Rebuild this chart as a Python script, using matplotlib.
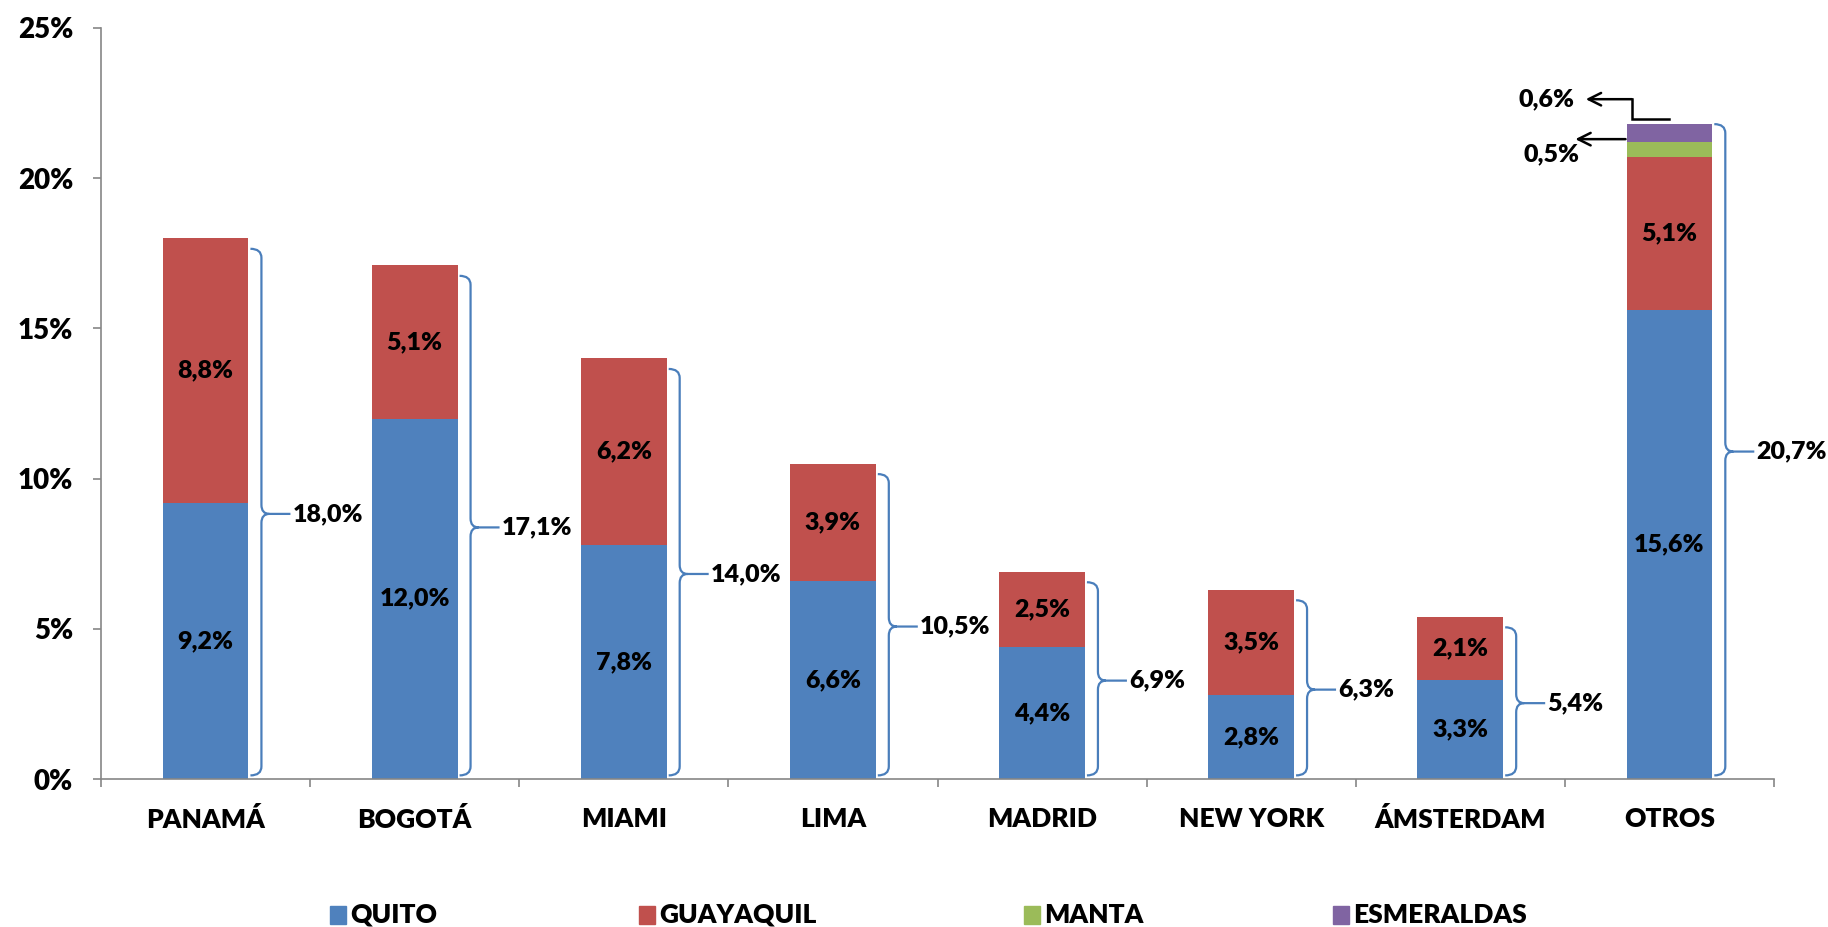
import matplotlib
matplotlib.use('Agg')
import matplotlib.pyplot as plt
from matplotlib.path import Path
from matplotlib.patches import PathPatch, Rectangle
import numpy as np

categories = ['PANAMÁ', 'BOGOTÁ', 'MIAMI', 'LIMA', 'MADRID', 'NEW YORK', 'ÁMSTERDAM', 'OTROS']
quito = [9.2, 12.0, 7.8, 6.6, 4.4, 2.8, 3.3, 15.6]
guayaquil = [8.8, 5.1, 6.2, 3.9, 2.5, 3.5, 2.1, 5.1]
manta = [0, 0, 0, 0, 0, 0, 0, 0.5]
esmeraldas = [0, 0, 0, 0, 0, 0, 0, 0.6]
series_names = ['QUITO', 'GUAYAQUIL', 'MANTA', 'ESMERALDAS']
colors = ['#4F81BD', '#C0504D', '#9BBB59', '#8064A2']
yticks = [0, 5, 10, 15, 20, 25]

FONT = ['Lato', 'DejaVu Sans']
LEGFONT = ['Liberation Sans Narrow', 'Lato', 'DejaVu Sans']
WEIGHT = 'heavy'
GRAY = '#868686'
BRACE = '#4A7EBB'

def fmt(v):
    return f"{v:.1f}".replace('.', ',') + '%'

W, H = 1828, 927
fig = plt.figure(figsize=(W / 100, H / 100), dpi=100)
ax = fig.add_axes([101 / W, 148 / H, 1673 / W, 751 / H])
x = np.arange(len(categories))
bw = 0.41
series = [quito, guayaquil, manta, esmeraldas]
bottom = np.zeros(len(x))
for vals, c in zip(series, colors):
    ax.bar(x, vals, bw, bottom=bottom, color=c, edgecolor='none', zorder=2)
    bottom += np.array(vals)
stack_top = bottom.copy()

ax.set_xlim(-0.5, len(categories) - 0.5)
ax.set_ylim(0, 25)

# inner labels
for i in range(len(x)):
    ax.text(x[i], quito[i] / 2, fmt(quito[i]), ha='center', va='center',
            fontsize=18, fontweight=WEIGHT, family=FONT, zorder=3)
    ax.text(x[i], quito[i] + guayaquil[i] / 2, fmt(guayaquil[i]), ha='center', va='center',
            fontsize=18, fontweight=WEIGHT, family=FONT, zorder=3)

# braces
pxx = 8 / 1673.0
pxy = 25 / 751.0
totals = [q + g for q, g in zip(quito, guayaquil)]
for i in range(len(x)):
    top = stack_top[i] - (0.0 if i == len(x) - 1 else 0.35)
    bot = 0.12
    mid = top / 2
    xb = x[i] + bw / 2 + 2 * pxx
    xv = xb + 11 * pxx
    xp = xv + 8 * pxx
    xt = xb + 40 * pxx
    r = 9 * pxy
    verts = [(xb, top), (xv, top), (xv, top - r),
             (xv, mid + r), (xv, mid), (xp, mid),
             (xt, mid),
             (xp, mid), (xv, mid), (xv, mid - r),
             (xv, bot + r), (xv, bot), (xb, bot)]
    codes = [Path.MOVETO, Path.CURVE3, Path.CURVE3,
             Path.LINETO, Path.CURVE3, Path.CURVE3,
             Path.LINETO,
             Path.MOVETO, Path.CURVE3, Path.CURVE3,
             Path.LINETO, Path.CURVE3, Path.CURVE3]
    ax.add_patch(PathPatch(Path(verts, codes), fill=False, edgecolor=BRACE, lw=1.6,
                           zorder=3, clip_on=False))
    ax.text(xt + 2 * pxx, mid, fmt(totals[i]), ha='left', va='center',
            fontsize=18, fontweight=WEIGHT, family=FONT, zorder=3)

# OTROS small-segment annotations
i = len(x) - 1
ax.plot([i + 0.0, i - 0.18, i - 0.18], [21.97, 21.97, 22.63], color='black', lw=1.8,
        solid_joinstyle='miter', zorder=3, clip_on=False)
ax.annotate('', xy=(i - 0.40, 22.63), xytext=(i - 0.18, 22.63),
            arrowprops=dict(arrowstyle='->,head_length=0.9,head_width=0.45', color='black', lw=1.8,
                            shrinkA=0, shrinkB=0))
ax.text(i - 0.586, 22.63, fmt(esmeraldas[i]), ha='center', va='center',
        fontsize=18, fontweight=WEIGHT, family=FONT)
ax.annotate('', xy=(i - 0.45, 21.3), xytext=(i - 0.21, 21.3),
            arrowprops=dict(arrowstyle='->,head_length=0.9,head_width=0.45', color='black', lw=1.8,
                            shrinkA=0, shrinkB=0))
ax.text(i - 0.562, 20.8, fmt(manta[i]), ha='center', va='center',
        fontsize=18, fontweight=WEIGHT, family=FONT)

# axes styling
for s in ['top', 'right']:
    ax.spines[s].set_visible(False)
for s in ['left', 'bottom']:
    ax.spines[s].set_color(GRAY)
    ax.spines[s].set_linewidth(1.2)
ax.set_yticks(yticks)
ax.set_yticklabels([f"{t}%" for t in yticks], fontsize=20, fontweight=WEIGHT, family=FONT)
ax.tick_params(axis='y', direction='out', length=6, width=1.2, color=GRAY, pad=14)
ax.set_xticks(x)
ax.set_xticklabels(categories, fontsize=19, fontweight=WEIGHT, family=FONT)
ax.tick_params(axis='x', which='major', length=0, pad=20)
ax.set_xticks(np.arange(-0.5, len(categories)), minor=True)
ax.tick_params(axis='x', which='minor', direction='out', length=6, width=1.2, color=GRAY)

# legend (manual, figure coords)
leg_x = [338, 647, 1032, 1341]
yc = 915
for lx, name, c in zip(leg_x, series_names, colors):
    fig.patches.append(Rectangle(((lx - 8) / W, (H - yc - 9) / H), 16 / W, 18 / H,
                                 transform=fig.transFigure, color=c))
    fig.text((lx + 12) / W, (H - yc) / H, name, ha='left', va='center',
             fontsize=19, fontweight=WEIGHT, family=LEGFONT)

fig.savefig('out.png', dpi=100)
